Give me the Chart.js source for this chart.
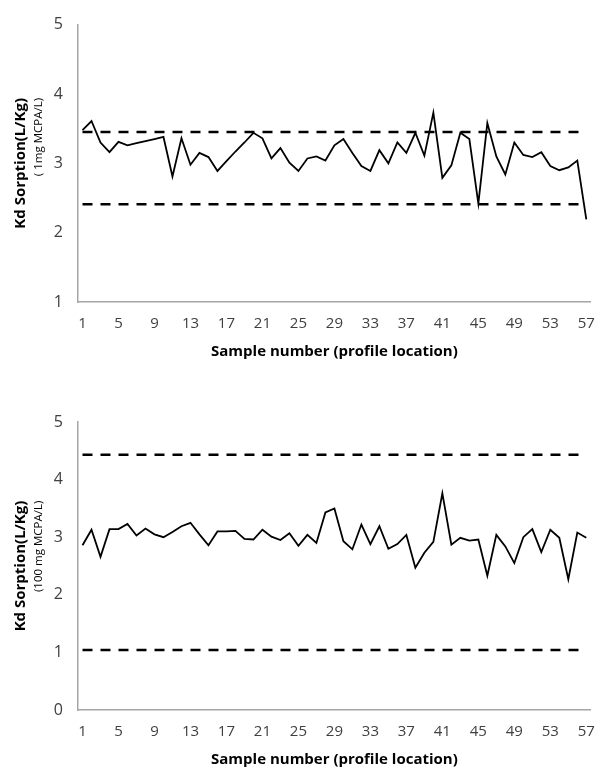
<!DOCTYPE html>
<html>
<head>
<meta charset="utf-8">
<script src="https://cdn.jsdelivr.net/npm/chart.js@4/dist/chart.umd.min.js"></script>
<style>
  html, body { margin: 0; padding: 0; background: #fff; }
  #wrap { position: relative; width: 608px; height: 771px; }
  #top { position: absolute; left: 0; top: 0; }
  #bottom { position: absolute; left: 0; top: 363px; }
</style>
</head>
<body>
<div id="wrap">
  <div id="top" style="width:608px;height:363px"><canvas id="chartTop"></canvas></div>
  <div id="bottom" style="width:608px;height:408px"><canvas id="chartBottom"></canvas></div>
</div>
<script>
const samples = [];
for (let i = 1; i <= 57; i++) samples.push(String(i));

// Kd sorption, 1 mg MCPA/L
const kd1mg = [3.48, 3.61, 3.30, 3.16, 3.31, 3.26, 3.29, 3.32, 3.35, 3.38,
  2.81, 3.36, 2.98, 3.15, 3.09, 2.89, 3.03, 3.17, 3.30, 3.44,
  3.36, 3.07, 3.22, 3.01, 2.89, 3.07, 3.10, 3.04, 3.26, 3.35,
  3.15, 2.96, 2.89, 3.19, 3.00, 3.30, 3.15, 3.44, 3.11, 3.73,
  2.79, 2.97, 3.44, 3.35, 2.42, 3.58, 3.10, 2.84, 3.30, 3.12,
  3.09, 3.16, 2.96, 2.90, 2.94, 3.04, 2.19];
const limits1mg = [3.45, 2.41];

// Kd sorption, 100 mg MCPA/L
const kd100mg = [2.86, 3.13, 2.66, 3.14, 3.14, 3.23, 3.03, 3.15, 3.05, 3.00,
  3.09, 3.19, 3.25, 3.05, 2.86, 3.10, 3.10, 3.11, 2.97, 2.96,
  3.13, 3.01, 2.95, 3.07, 2.85, 3.04, 2.90, 3.43, 3.50, 2.93,
  2.79, 3.22, 2.88, 3.19, 2.80, 2.88, 3.04, 2.47, 2.73, 2.92,
  3.76, 2.87, 2.99, 2.94, 2.96, 2.33, 3.04, 2.84, 2.55, 3.00,
  3.14, 2.74, 3.13, 2.99, 2.27, 3.08, 2.99];
const limits100mg = [4.43, 1.04];

const fontFam = "'Open Sans', sans-serif";
const tickColor = '#404040';
const axisColor = '#a6a6a6';

// rotated two-line y title: bold main line + small unit line
const yTitlePlugin = {
  id: 'yTitle',
  afterDraw(chart, args, opts) {
    const { ctx, chartArea } = chart;
    const cy = (chartArea.top + chartArea.bottom) / 2;
    ctx.save();
    ctx.fillStyle = '#000';
    ctx.textBaseline = 'middle';
    ctx.font = 'bold 15px ' + fontFam;
    const w = ctx.measureText(opts.main).width;
    ctx.translate(21, cy);
    ctx.rotate(-Math.PI / 2);
    ctx.textAlign = 'center';
    ctx.fillText(opts.main, 0, 0);
    ctx.font = '11.5px ' + fontFam;
    ctx.textAlign = 'right';
    ctx.fillText(opts.sub, w / 2, 18);
    ctx.restore();
  }
};

function makeChart(id, values, limits, yMin, padTop, mainTitle, subTitle) {
  const dashed = v => ({
    data: samples.map(() => v),
    borderColor: '#000',
    borderWidth: 2.5,
    borderDash: [10, 8],
    pointRadius: 0,
    fill: false
  });
  return new Chart(document.getElementById(id), {
    type: 'line',
    data: {
      labels: samples,
      datasets: [
        { data: values, borderColor: '#000', borderWidth: 1.8, pointRadius: 0, tension: 0, fill: false },
        dashed(limits[0]),
        dashed(limits[1])
      ]
    },
    options: {
      responsive: true,
      maintainAspectRatio: false,
      animation: false,
      layout: { padding: { top: padTop, right: 13.5, left: 0, bottom: 0 } },
      plugins: {
        legend: { display: false },
        tooltip: { enabled: false },
        yTitle: { main: mainTitle, sub: subTitle }
      },
      scales: {
        x: {
          offset: true,
          grid: { display: false, drawTicks: false },
          border: { display: true, color: axisColor, width: 1.5 },
          ticks: {
            autoSkip: false,
            maxRotation: 0,
            padding: 13,
            color: tickColor,
            font: { family: fontFam, size: 15 },
            callback: (v, i) => (i % 4 === 0 ? samples[i] : '')
          },
          title: {
            display: true,
            text: 'Sample number (profile location)',
            color: '#000',
            font: { family: fontFam, size: 15, weight: 'bold' },
            padding: { top: 0, bottom: 2 }
          },
          afterFit: s => { s.height = 61; }
        },
        y: {
          min: yMin,
          max: 5,
          grid: { display: false, drawTicks: false },
          border: { display: true, color: axisColor, width: 1.5 },
          ticks: {
            stepSize: 1,
            padding: 15,
            color: tickColor,
            font: { family: fontFam, size: 16 }
          },
          afterFit: s => { s.width = 78; }
        }
      }
    },
    plugins: [yTitlePlugin]
  });
}

makeChart('chartTop', kd1mg, limits1mg, 1, 16, 'Kd Sorption(L/Kg)', '( 1mg MCPA/L)');
makeChart('chartBottom', kd100mg, limits100mg, 0, 59, 'Kd Sorption(L/Kg)', '(100 mg MCPA/L)');
</script>
</body>
</html>
